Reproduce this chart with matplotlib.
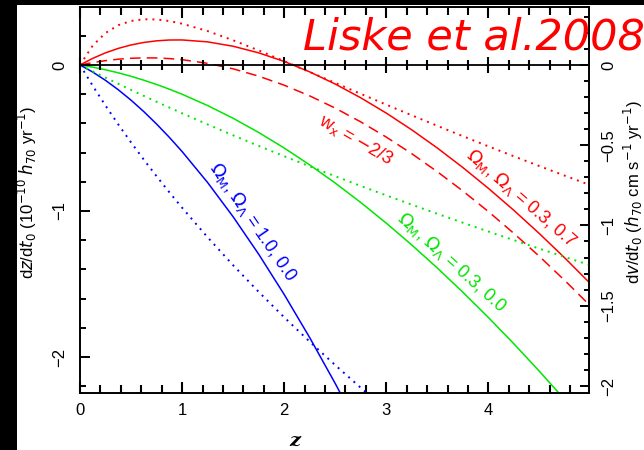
import matplotlib.pyplot as plt
from matplotlib.patches import Rectangle
from matplotlib.ticker import MultipleLocator, FuncFormatter

plt.rcParams['font.family'] = ['Liberation Sans', 'DejaVu Sans']
plt.rcParams['mathtext.fontset'] = 'dejavusans'

# redshift grid
z = [0, 0.125, 0.25, 0.375, 0.5, 0.625, 0.75, 0.875, 1.0, 1.25, 1.5, 1.75,
     2.0, 2.25, 2.5, 2.75, 3.0, 3.25, 3.5, 3.75, 4.0, 4.25, 4.5, 4.75, 5.0]

# dz/dt0 (10^-10 h70 yr^-1), left axis
dz_lcdm = [0, 0.0453, 0.0831, 0.1135, 0.1370, 0.1541, 0.1653, 0.1709, 0.1713,
           0.1582, 0.1281, 0.0829, 0.0240, -0.0475, -0.1308, -0.2252, -0.3300,
           -0.4449, -0.5692, -0.7028, -0.8453, -0.9964, -1.1558, -1.3233, -1.4987]
dz_wx = [0, 0.0164, 0.0296, 0.0394, 0.0458, 0.0486, 0.0479, 0.0438, 0.0362,
         0.0112, -0.0266, -0.0768, -0.1387, -0.2119, -0.2958, -0.3901, -0.4943,
         -0.6082, -0.7315, -0.8636, -1.0046, -1.1542, -1.3119, -1.4778, -1.6515]
dz_open = [0, -0.0150, -0.0330, -0.0539, -0.0777, -0.1044, -0.1338, -0.1660,
           -0.2007, -0.2781, -0.3654, -0.4625, -0.5690, -0.6847, -0.8091,
           -0.9423, -1.0837, -1.2335, -1.3912, -1.5568, -1.7300, -1.9107,
           -2.0988, -2.2942]
dz_eds = [0, -0.0489, -0.1056, -0.1699, -0.2413, -0.3197, -0.4046, -0.4958,
          -0.5932, -0.8055, -1.0402, -1.2962, -1.5725, -1.8681, -2.1822, -2.5145]

# dv/dt0 (h70 cm s^-1 yr^-1), right axis
dv_lcdm = [0, 0.1209, 0.1993, 0.2476, 0.2741, 0.2846, 0.2833, 0.2734, 0.2570,
           0.2109, 0.1537, 0.0905, 0.0240, -0.0439, -0.1121, -0.1801, -0.2475,
           -0.3140, -0.3795, -0.4439, -0.5072, -0.5694, -0.6304, -0.6904, -0.7494]
dv_open = [0, -0.0399, -0.0791, -0.1176, -0.1555, -0.1927, -0.2294, -0.2655,
           -0.3011, -0.3707, -0.4385, -0.5046, -0.5690, -0.6320, -0.6935,
           -0.7538, -0.8128, -0.8707, -0.9275, -0.9832, -1.0380, -1.0918,
           -1.1448, -1.1970, -1.2483]
dv_eds = [0, -0.1303, -0.2535, -0.3707, -0.4827, -0.5902, -0.6936, -0.7933,
          -0.8897, -1.0740, -1.2482, -1.4140, -1.5725, -1.7244, -1.8705,
          -2.0116, -2.1480]

red = '#ff0000'
green = '#00e600'
blue = '#0000ff'
dots = (0, (1, 2.6))
tk = 'black'


def fmt(v, p):
    return "0" if v == 0 else f"{v:g}".replace('-', '\u2212')


fig = plt.figure(figsize=(6.44, 4.5), dpi=100, facecolor='black')
fig.patches.append(Rectangle((17 / 644, 0), 1, 445 / 450, transform=fig.transFigure,
                             facecolor='white', edgecolor='none', zorder=-10))
ax = fig.add_axes([80 / 644, 57 / 450, 509 / 644, 386 / 450])
ax2 = ax.twinx()

ax.plot(z, dz_lcdm, color=red, lw=1.1)
ax.plot(z, dz_wx, color=red, lw=1.1, ls=(0, (7, 4)))
ax.plot(z[:len(dz_open)], dz_open, color=green, lw=1.1)
ax.plot(z[:len(dz_eds)], dz_eds, color=blue, lw=1.1)

ax2.plot(z, dv_lcdm, color=red, lw=1.4, ls=dots)
ax2.plot(z, dv_open, color=green, lw=1.4, ls=dots)
ax2.plot(z[:len(dv_eds)], dv_eds, color=blue, lw=1.4, ls=dots)

ax.set_xlim(0, 4.985)
ax.set_ylim(-2.247, 0.397)
ax2.set_ylim(-2.044, 0.361)

for a in (ax, ax2):
    for s in a.spines.values():
        s.set_linewidth(1.2)

ax.xaxis.set_major_locator(MultipleLocator(1))
ax.xaxis.set_minor_locator(MultipleLocator(0.2))
ax.yaxis.set_major_locator(MultipleLocator(1))
ax.yaxis.set_minor_locator(MultipleLocator(0.2))
ax.tick_params(axis='x', which='both', direction='in', top=True, bottom=True,
               labelsize=12, pad=7, width=1.5, color=tk)
ax.tick_params(axis='x', which='major', length=8)
ax.tick_params(axis='x', which='minor', length=5.5)
ax.tick_params(axis='y', which='both', direction='in', left=True, right=False,
               labelsize=12, pad=9, width=1.4, color=tk)
ax.tick_params(axis='y', which='major', length=7.5)
ax.tick_params(axis='y', which='minor', length=4.5)
ax.yaxis.set_major_formatter(FuncFormatter(fmt))

ax2.yaxis.set_major_locator(MultipleLocator(0.5))
ax2.yaxis.set_minor_locator(MultipleLocator(0.1))
ax2.tick_params(axis='y', which='both', direction='in', labelsize=12, pad=9,
                width=1.4, color=tk)
ax2.tick_params(axis='y', which='major', length=6.5)
ax2.tick_params(axis='y', which='minor', length=3.8)
ax2.yaxis.set_major_formatter(FuncFormatter(fmt))

for lab in ax.get_yticklabels() + ax2.get_yticklabels():
    lab.set_rotation(90)
    lab.set_va('center')

# zero line with crossing ticks: a thin overlay axes whose bottom spine sits at y=0
ylo, yhi = ax.get_ylim()
zfrac = (0 - ylo) / (yhi - ylo)
zax = fig.add_axes([80 / 644, 57 / 450 + zfrac * 386 / 450, 509 / 644, 0.01])
zax.patch.set_visible(False)
zax.set_xlim(ax.get_xlim())
for side in ('top', 'left', 'right'):
    zax.spines[side].set_visible(False)
zax.spines['bottom'].set_linewidth(1.3)
zax.set_yticks([])
zax.xaxis.set_major_locator(MultipleLocator(1))
zax.xaxis.set_minor_locator(MultipleLocator(0.2))
zax.tick_params(axis='x', which='both', direction='inout', labelbottom=False,
                width=1.5, color=tk)
zax.tick_params(axis='x', which='major', length=11)
zax.tick_params(axis='x', which='minor', length=7)

ax.set_ylabel(r"d$z$/d$t_0$ (10$^{-10}$ $h_{70}$ yr$^{-1}$)", fontsize=12)
ax.yaxis.set_label_coords(-0.08, 0.52)
ax2.set_ylabel(r"d$v$/d$t_0$ ($h_{70}$ cm s$^{-1}$ yr$^{-1}$)", fontsize=12)
ax2.yaxis.set_label_coords(1.065, 0.52)
ax.set_xlabel("z", fontsize=14, family='DejaVu Serif', style='italic', weight='bold')
ax.xaxis.set_label_coords(0.422, -0.1)

# curve labels
lab_kw = dict(fontsize=13, rotation_mode='anchor', ha='center', va='center')
ax.text(1.69, -1.075, r"$\Omega_{\rm M}$, $\Omega_\Lambda$ = 1.0, 0.0", color=blue,
        rotation=-55.5, **lab_kw)
ax.text(3.64, -1.356, r"$\Omega_{\rm M}$, $\Omega_\Lambda$ = 0.3, 0.0", color=green,
        rotation=-42, **lab_kw)
ax.text(4.32, -0.911, r"$\Omega_{\rm M}$, $\Omega_\Lambda$ = 0.3, 0.7", color=red,
        rotation=-41, **lab_kw)
ax.text(2.70, -0.514, r"w$_{\rm x}$ = $-$2/3", color=red, rotation=-30, **lab_kw)

fig.text(303 / 644, 400 / 450, "Liske et al.2008", color=red, fontsize=31,
         family='DejaVu Sans', style='italic', ha='left', va='baseline')

fig.savefig('out.png', dpi=100, facecolor='black')
